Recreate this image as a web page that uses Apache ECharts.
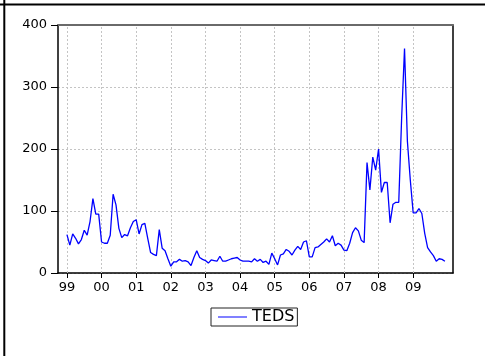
<!DOCTYPE html>
<html>
<head>
<meta charset="utf-8">
<script src="https://cdn.jsdelivr.net/npm/echarts@6/dist/echarts.min.js"></script>
<style>
html,body{margin:0;padding:0;background:#fff;}
#chart{width:485px;height:356px;}
</style>
</head>
<body>
<div id="chart"></div>
<script>
// Monthly TEDS, 1999M01 - 2009M12
const seriesName = 'TEDS';
const yearTickLabels = ['99','00','01','02','03','04','05','06','07','08','09'];
const yTicks = [0, 100, 200, 300, 400];
const teds1999 = [62,45,63,56,47,54,69,61,83,120,95,95];
const teds2000 = [50,48,48,61,127,110,72,57,62,60,73,83];
const teds2001 = [86,63,78,80,56,33,30,28,70,40,36,23];
const teds2002 = [11,18,18,22,19,20,18,12,25,36,25,22];
const teds2003 = [20,16,21,20,19,27,19,19,21,23,24,25];
const teds2004 = [21,19,19,19,18,23,19,22,17,19,14,32];
const teds2005 = [23,13,29,31,38,35,29,37,43,38,50,52];
const teds2006 = [26,26,41,42,46,50,55,50,60,44,48,45];
const teds2007 = [37,36,48,65,73,68,53,49,178,134,187,166];
const teds2008 = [200,130,146,146,81,111,114,114,250,362,212,150];
const teds2009 = [97,97,104,96,64,41,34,28,19,23,22,19];

const values = [].concat(teds1999,teds2000,teds2001,teds2002,teds2003,teds2004,
                         teds2005,teds2006,teds2007,teds2008,teds2009);
const monthsPerYear = 12;
const points = values.map((v, i) => [i, v]);
const yearTickPos = yearTickLabels.map((_, k) => k * monthsPerYear);

const font = 'DejaVu Sans';
const chart = echarts.init(document.getElementById('chart'), null, {renderer: 'canvas'});
chart.setOption({
  animation: false,
  backgroundColor: '#fff',
  grid: {left: 58, top: 25, right: 32, bottom: 83, containLabel: false, outerBoundsMode: 'none'},
  xAxis: [{
    type: 'value',
    min: -3.1,
    max: 133.8,
    position: 'bottom',
    axisLine: {show: true, onZero: false, lineStyle: {color: '#000', width: 1.5}},
    axisTick: {show: true, length: 5, inside: false, customValues: yearTickPos, lineStyle: {color: '#000', width: 1}},
    axisLabel: {
      show: true, margin: 8, customValues: yearTickPos,
      formatter: v => yearTickLabels[Math.round(v / monthsPerYear)],
      color: '#000', fontFamily: font, fontSize: 13
    },
    splitLine: {show: false}
  }, {
    type: 'value', min: -3.1, max: 133.8, position: 'top',
    axisLine: {show: true, onZero: false, lineStyle: {color: '#6a6a6a', width: 2}},
    axisTick: {show: false}, axisLabel: {show: false}, splitLine: {show: false}
  }],
  yAxis: [{
    type: 'value', min: 0, max: 400, interval: 100, position: 'left',
    axisLine: {show: true, onZero: false, lineStyle: {color: '#000', width: 1.5}},
    axisTick: {show: true, length: 7, inside: false, lineStyle: {color: '#000', width: 1}},
    axisLabel: {show: true, margin: 11, color: '#000', fontFamily: font, fontSize: 13,
      formatter: v => (yTicks.indexOf(v) >= 0 ? String(v) : '')},
    splitLine: {show: true, lineStyle: {color: '#c4c4c4', type: [2, 2], width: 1}}
  }, {
    type: 'value', min: 0, max: 400, position: 'right',
    axisLine: {show: true, onZero: false, lineStyle: {color: '#000', width: 1.5}},
    axisTick: {show: false}, axisLabel: {show: false}, splitLine: {show: false}
  }],
  legend: {
    show: true,
    left: 211, top: 308,
    padding: [1, 3, 1, 7],
    borderColor: '#222', borderWidth: 1,
    itemWidth: 29, itemHeight: 14, itemGap: 5,
    textStyle: {fontFamily: font, fontSize: 16, color: '#000'},
    data: [{name: seriesName, icon: 'path://M0,0 L29,0 L29,1 L0,1 Z'}]
  },
  series: [{
    name: seriesName,
    type: 'line',
    xAxisIndex: 0, yAxisIndex: 0,
    data: points,
    symbol: 'none',
    lineStyle: {color: '#0000ff', width: 1.3},
    itemStyle: {color: '#0000ff'},
    markLine: {
      silent: true, symbol: 'none', label: {show: false},
      lineStyle: {color: '#c4c4c4', type: [2, 2], width: 1},
      data: yearTickPos.map(x => ({xAxis: x}))
    },
    z: 5
  }],
  graphic: [
    {type: 'rect', shape: {x: 0, y: 3.5, width: 485, height: 2}, style: {fill: '#000'}, z: 100},
    {type: 'rect', shape: {x: 3.3, y: 0, width: 2, height: 356}, style: {fill: '#000'}, z: 100}
  ]
});
</script>
</body>
</html>
